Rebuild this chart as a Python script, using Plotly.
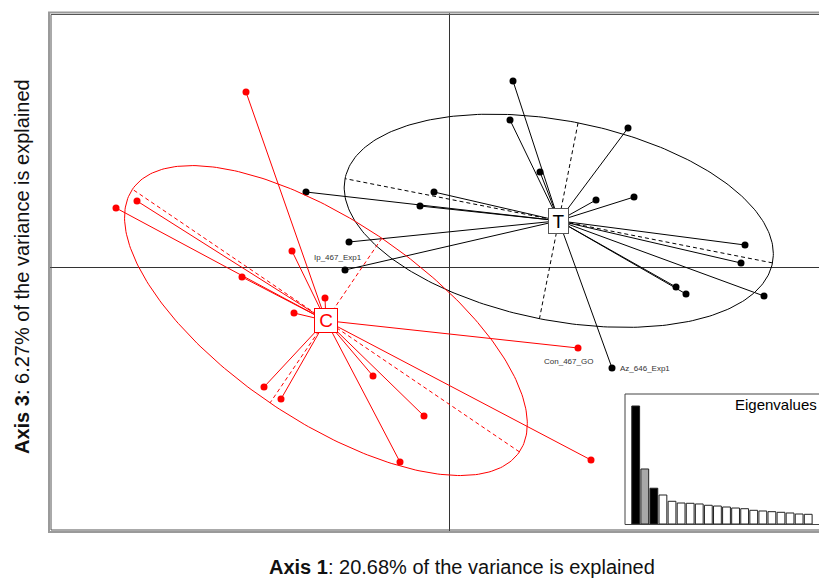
import numpy as np
import plotly.graph_objects as go

# ---------------- data (axis 1 / axis 3 scores) ----------------
t_x = [0.64, 0.61, 0.91, 1.79, -0.15, -0.29, -1.00, -1.43, -1.04, 1.47, 1.85, 2.96, 2.92, 2.27, 2.37, 3.15, 1.63]
t_y = [1.86, 1.47, 0.95, 1.39, 0.75, 0.61, 0.25, 0.75, -0.03, 0.67, 0.70, 0.22, 0.04, -0.20, -0.27, -0.29, -1.01]

c_x = [-2.03, -3.33, -3.12, -1.57, -2.07, -1.24, -1.55, 1.29, -1.85, -1.68, -0.76, -0.25, -0.49, 1.42]
c_y = [1.75, 0.59, 0.66, 0.16, -0.10, -0.31, -0.46, -0.81, -1.20, -1.32, -1.09, -1.49, -1.95, -1.93]

group_names = ["T", "C"]
group_colors = ["#000000", "#FF0000"]

# point labels: (text, group, index in group)
point_labels = [("Ip_467_Exp1", "T", 8), ("Az_646_Exp1", "T", 16), ("Con_467_GO", "C", 7)]

# eigenvalues (% of variance)
eigenvalues = [20.68, 9.64, 6.27, 5.08, 3.98, 3.68, 3.63, 3.51, 3.28, 3.15,
               2.98, 2.80, 2.68, 2.40, 2.28, 2.16, 2.05, 1.93, 1.75, 1.70]
nf, xax, yax = 3, 1, 3

xtitle_bold, xtitle_rest = "Axis 1", ": 20.68% of the variance is explained"
ytitle_bold, ytitle_rest = "Axis 3", ": 6.27% of the variance is explained"

FONT = "Liberation Sans, Arial, sans-serif"
CELLIPSE = 1.5

# ---------------- layout geometry ----------------
W, H = 819, 578
ML, MR, MT, MB = 48, 0, 12, 47
PW, PH = W - ML - MR, H - MT - MB


def px(xp):
    return (xp - ML) / PW


def py(yp):
    return (H - MB - yp) / PH


fig = go.Figure()

groups = {"T": (np.array(t_x), np.array(t_y)), "C": (np.array(c_x), np.array(c_y))}
centers = {}

for g, col in zip(group_names, group_colors):
    x, y = groups[g]
    cx, cy = x.mean(), y.mean()
    centers[g] = (cx, cy)
    vx = ((x - cx) ** 2).mean()
    vy = ((y - cy) ** 2).mean()
    cxy = ((x - cx) * (y - cy)).mean()
    cov = np.array([[vx, cxy], [cxy, vy]])
    vals, vecs = np.linalg.eigh(cov)
    order = np.argsort(vals)[::-1]
    vals, vecs = vals[order], vecs[:, order]
    a, b = CELLIPSE * np.sqrt(vals)
    t = np.linspace(0, 2 * np.pi, 300)
    ex = cx + a * np.cos(t) * vecs[0, 0] + b * np.sin(t) * vecs[0, 1]
    ey = cy + a * np.cos(t) * vecs[1, 0] + b * np.sin(t) * vecs[1, 1]
    fig.add_trace(go.Scatter(x=ex, y=ey, mode="lines", line=dict(color=col, width=1),
                             hoverinfo="skip"))
    # ellipse axes (dashed)
    ax_x, ax_y = [], []
    for k, r in ((0, a), (1, b)):
        ax_x += [cx - r * vecs[0, k], cx + r * vecs[0, k], None]
        ax_y += [cy - r * vecs[1, k], cy + r * vecs[1, k], None]
    fig.add_trace(go.Scatter(x=ax_x, y=ax_y, mode="lines",
                             line=dict(color=col, width=1, dash="4px,3px"), hoverinfo="skip"))
    # star segments
    sx, sy = [], []
    for xi, yi in zip(x, y):
        sx += [cx, xi, None]
        sy += [cy, yi, None]
    fig.add_trace(go.Scatter(x=sx, y=sy, mode="lines", line=dict(color=col, width=1),
                             hoverinfo="skip"))
    fig.add_trace(go.Scatter(x=x, y=y, mode="markers",
                             marker=dict(color=col, size=7, line=dict(width=0))))

# centroid labels
box_sizes = {"T": (17, 22), "C": (20, 21)}
for g, col in zip(group_names, group_colors):
    cx, cy = centers[g]
    w, h = box_sizes[g]
    fig.add_annotation(x=cx, y=cy, xref="x", yref="y", text=g, showarrow=False,
                       font=dict(family=FONT, size=19, color=col),
                       bgcolor="white", bordercolor=("#555555" if g == "T" else col),
                       borderwidth=1, borderpad=1, width=w, height=h)

# point labels
label_style = {"Ip_467_Exp1": dict(xanchor="center", yanchor="middle", xshift=-7, yshift=13),
               "Az_646_Exp1": dict(xanchor="left", yanchor="middle", xshift=6, yshift=0),
               "Con_467_GO": dict(xanchor="center", yanchor="middle", xshift=-10, yshift=-13)}
for txt, g, i in point_labels:
    x, y = groups[g]
    fig.add_annotation(x=x[i], y=y[i], xref="x", yref="y", text=txt, showarrow=False,
                       font=dict(family=FONT, size=8, color="#333333"), **label_style[txt])

# eigenvalue inset
bar_cols = ["white"] * len(eigenvalues)
for i in range(nf):
    bar_cols[i] = "#A8A8A8"
bar_cols[xax - 1] = "black"
bar_cols[yax - 1] = "black"
fig.add_trace(go.Bar(x=list(range(1, len(eigenvalues) + 1)), y=eigenvalues,
                     marker=dict(color=bar_cols, line=dict(color="#222222", width=1)),
                     width=0.86, xaxis="x2", yaxis="y2"))

# frame shapes
shapes = []
gray = "#9A9A9A"
dark = "#555555"
# outer gray frame
shapes.append(dict(type="line", xref="paper", yref="paper", x0=px(49), x1=px(49), y0=py(12.5), y1=py(532), line=dict(color=gray, width=2)))
shapes.append(dict(type="line", xref="paper", yref="paper", x0=px(48), x1=px(830), y0=py(12.5), y1=py(12.5), line=dict(color=gray, width=2)))
shapes.append(dict(type="line", xref="paper", yref="paper", x0=px(48), x1=px(830), y0=py(532), y1=py(532), line=dict(color=gray, width=2)))
# inner dark frame
shapes.append(dict(type="line", xref="paper", yref="paper", x0=px(51), x1=px(51), y0=py(14.5), y1=py(530), line=dict(color=dark, width=1)))
shapes.append(dict(type="line", xref="paper", yref="paper", x0=px(51), x1=px(830), y0=py(14.5), y1=py(14.5), line=dict(color=dark, width=1)))
shapes.append(dict(type="line", xref="paper", yref="paper", x0=px(51), x1=px(830), y0=py(530), y1=py(530), line=dict(color=dark, width=1)))
# inset border
shapes.append(dict(type="line", xref="paper", yref="paper", x0=px(625), x1=px(625), y0=py(394), y1=py(524.5), line=dict(color="#444444", width=1)))
shapes.append(dict(type="line", xref="paper", yref="paper", x0=px(625), x1=px(830), y0=py(394), y1=py(394), line=dict(color="#444444", width=1)))
shapes.append(dict(type="line", xref="paper", yref="paper", x0=px(625), x1=px(830), y0=py(524.5), y1=py(524.5), line=dict(color="#444444", width=1)))

fig.add_annotation(x=px(733), y=py(404), xref="paper", yref="paper", text="Eigenvalues",
                   showarrow=False, xanchor="left", yanchor="middle",
                   font=dict(family=FONT, size=15, color="black"))

# axis titles
fig.add_annotation(x=px(462), y=py(567), xref="paper", yref="paper",
                   text=f"<b>{xtitle_bold}</b>{xtitle_rest}", showarrow=False,
                   xanchor="center", yanchor="middle",
                   font=dict(family=FONT, size=20, color="#111111"))
fig.add_annotation(x=px(22), y=py(267), xref="paper", yref="paper",
                   text=f"<b>{ytitle_bold}</b>{ytitle_rest}", showarrow=False, textangle=-90,
                   xanchor="center", yanchor="middle",
                   font=dict(family=FONT, size=20, color="#111111"))

# inset axis ranges (px -> bar index / value)
bar_step = 9.08
x2_left = 1 - (635.7 - 625) / bar_step
x2_right = x2_left + (W - 625) / bar_step
y2_top = (524 - 394) / (118 / eigenvalues[0])

fig.update_layout(
    width=W, height=H,
    margin=dict(l=ML, r=MR, t=MT, b=MB),
    paper_bgcolor="white", plot_bgcolor="white",
    showlegend=False,
    shapes=shapes,
    xaxis=dict(range=[(ML - 449) / 100, (W - MR - 449) / 100], showgrid=False, zeroline=True,
               zerolinecolor="#333333", zerolinewidth=1, showticklabels=False, ticks="",
               showline=False, domain=[0, 1], fixedrange=True),
    yaxis=dict(range=[(267 - (H - MB)) / 100, (267 - MT) / 100], showgrid=False, zeroline=True,
               zerolinecolor="#333333", zerolinewidth=1, showticklabels=False, ticks="",
               showline=False, domain=[0, 1], fixedrange=True),
    xaxis2=dict(domain=[px(625), 1], range=[x2_left, x2_right], anchor="y2", showgrid=False,
                zeroline=False, showticklabels=False, ticks="", showline=False),
    yaxis2=dict(domain=[py(524), py(394)], range=[0, y2_top], anchor="x2", showgrid=False,
                zeroline=False, showticklabels=False, ticks="", showline=False),
    bargap=0.12,
)

fig.write_html("out.html", config={"displayModeBar": False},
               post_script="document.body.style.margin='0px';document.body.style.overflow='hidden';")
